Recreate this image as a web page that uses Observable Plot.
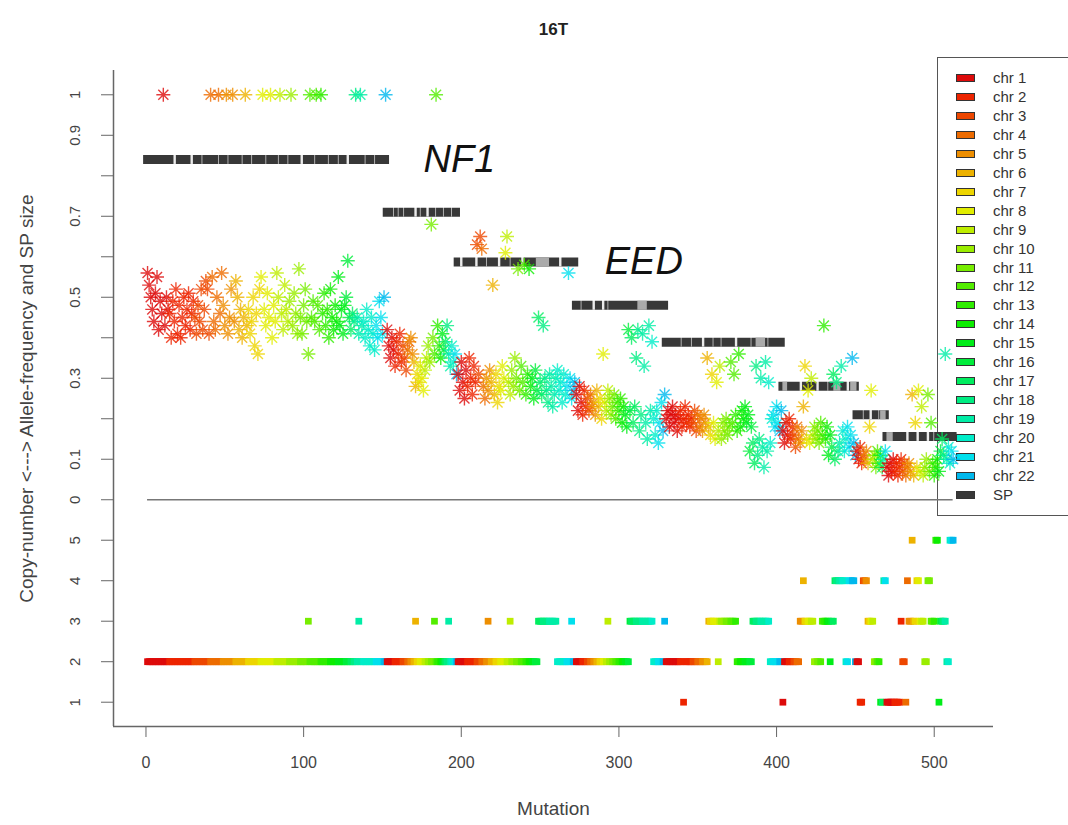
<!DOCTYPE html>
<html>
<head>
<meta charset="utf-8">
<script src="https://cdn.jsdelivr.net/npm/d3@7"></script>
<script src="https://cdn.jsdelivr.net/npm/@observablehq/plot@0.6"></script>
<style>
  body { margin: 0; background: #fff; }
  #wrap { position: relative; width: 1068px; height: 825px; overflow: hidden; font-family: "Liberation Sans", Arial, sans-serif; }
  #legend { position: absolute; left: 937px; top: 57px; width: 150px; height: 459px; border: 1.5px solid #555; background: #fff; box-sizing: border-box; }
  #legend .sw { position: absolute; left: 18px; width: 19px; height: 8px; border: 1px solid #333; box-sizing: border-box; }
  #legend .lb { position: absolute; left: 55px; font-size: 15px; color: #333; line-height: 16px; white-space: nowrap; }
  #chart { position: absolute; left: 0; top: 0; }
</style>
</head>
<body>
<div id="wrap"><div id="legend"></div><div id="chart"></div></div>
<script>
// ---------------- data ----------------
const chrNames = ["chr 1","chr 2","chr 3","chr 4","chr 5","chr 6","chr 7","chr 8","chr 9","chr 10","chr 11",
  "chr 12","chr 13","chr 14","chr 15","chr 16","chr 17","chr 18","chr 19","chr 20","chr 21","chr 22"];
const chrColors = ["#dd0a0a","#ed2400","#ed4700","#ed6b00","#ed8e00","#edb200","#edd500","#e1ed00","#beed00",
  "#9aed00","#77ed00","#53ed00","#2fed00","#0ced00","#00ed18","#00ed3b","#00ed5f","#00ed82","#00eda6",
  "#00edc9","#00e0ed","#00b8ed"];
const spLabel = "SP";
const spColor = "#383838";

// subpopulation (SP) sizes, in allele-frequency units
const spSizes = [0.84, 0.71, 0.587, 0.48, 0.389, 0.28, 0.21, 0.156];

// number of mutations per chromosome (chr 1..22) inside each SP, in plotting order
const spChrCounts = [
  [14,16,10,8,8,8,8,10,8,7,6,7,6,5,5,3,2,2,4,8,5,2],
  [5,5,3,2,2,2,2,3,2,2,2,2,2,1,1,1,1,1,2,2,1,1],
  [6,6,3,3,3,3,3,4,3,3,3,3,2,2,2,2,3,4,5,6,4,2],
  [4,3,2,2,2,2,2,2,2,2,2,2,2,2,2,2,3,4,6,4,3,2],
  [9,8,3,3,3,2,2,3,2,3,3,3,3,3,3,2,2,3,5,3,4,2],
  [4,3,2,2,2,1,2,2,2,2,2,2,2,1,2,1,2,2,2,3,3,3],
  [2,2,1,1,1,1,1,1,1,1,1,1,1,0,1,0,1,0,1,0,1,0],
  [5,5,2,2,2,2,2,2,2,2,2,2,2,1,1,1,1,1,2,2,1,1]
];

// allele frequency of each mutation, SP by SP, in mutation order
const sp1AF = [
  0.56,0.53,0.50,0.47,0.44,0.51,0.55,0.42,0.49,0.46,1.00,0.43,0.50,0.47,
  0.46,0.40,0.49,0.44,0.52,0.41,0.48,0.40,0.45,0.50,0.43,0.47,0.51,0.42,0.46,0.49,
  0.45,0.41,0.48,0.44,0.52,0.42,0.47,0.54,0.52,0.41,
  1.00,0.55,0.44,0.42,0.50,1.00,0.46,0.56,
  0.48,0.43,1.00,0.41,0.45,0.52,1.00,0.44,
  0.54,0.50,0.42,0.47,0.40,0.45,1.00,0.43,
  0.47,0.41,0.44,0.50,0.38,0.46,0.36,0.52,
  0.55,1.00,0.47,0.43,0.51,0.45,1.00,0.40,0.48,0.44,
  0.56,0.50,1.00,0.46,0.42,0.53,0.47,0.44,
  0.49,1.00,0.43,0.51,0.46,0.41,0.57,
  0.45,0.41,0.48,0.52,0.44,0.36,
  1.00,0.45,0.49,0.44,1.00,0.48,0.42,
  1.00,0.46,0.51,0.43,0.47,0.40,
  0.52,0.45,0.42,0.48,0.44,
  0.55,0.43,0.47,0.41,0.48,
  0.50,0.59,0.45,
  0.42,0.46,
  0.44,1.00,
  0.45,0.41,1.00,0.43,
  0.44,0.40,0.47,0.42,0.38,0.45,0.41,0.37,
  0.43,0.40,0.49,0.45,0.41,
  0.50,1.00
];
const sp2AF = [
  0.42,0.38,0.35,0.40,0.37, 0.33,0.39,0.36,0.41,0.34, 0.38,0.35,0.32, 0.37,0.39, 0.40,0.36,
  0.34,0.28, 0.31,0.29, 0.33,0.30,0.27, 0.32,0.35, 0.38,0.34, 0.68,0.40, 0.36,1.00, 0.43,0.38,
  0.35, 0.41, 0.37, 0.39, 0.43, 0.36,0.33, 0.38,0.34, 0.36, 0.31
];
const sp3AF = [
  0.31,0.27,0.34,0.29,0.25,0.32, 0.28,0.35,0.30,0.26,0.33,0.29, 0.63,0.31,0.65, 0.62,0.28,0.25,
  0.30,0.27,0.32, 0.29,0.53,0.26, 0.31,0.24,0.28, 0.27,0.33,0.30,0.61, 0.65,0.29,0.26,
  0.32,0.28,0.35, 0.30,0.57,0.27, 0.33,0.29,0.58, 0.26,0.31, 0.57,0.28, 0.30,0.25, 0.32,0.27,
  0.45,0.29,0.26, 0.43,0.30,0.27,0.24, 0.31,0.28,0.23,0.26,0.30, 0.32,0.27,0.29,0.24,0.31,0.26,
  0.28,0.56,0.30,0.25, 0.27,0.29
];
const sp4AF = [
  0.26,0.22,0.28,0.24, 0.21,0.27,0.23, 0.25,0.22, 0.26,0.23, 0.24,0.21, 0.27,0.23, 0.25,0.20,
  0.36,0.24, 0.22,0.27, 0.25,0.21, 0.23,0.26, 0.20,0.24, 0.22,0.25, 0.19,0.23, 0.21,0.18,
  0.42,0.22, 0.40,0.19,0.23, 0.35,0.42,0.17,0.21, 0.41,0.33,0.19,0.15,0.43,0.22,
  0.39,0.20,0.16,0.22, 0.14,0.19,0.24, 0.17,0.26
];
const sp5AF = [
  0.20,0.22,0.18,0.21,0.23,0.19,0.21,0.17,0.20, 0.22,0.18,0.20,0.23,0.19,0.21,0.18,0.20,
  0.19,0.22,0.17, 0.21,0.18,0.20, 0.17,0.21,0.19, 0.35,0.18, 0.16,0.31, 0.19,0.15,0.29,
  0.17,0.33, 0.15,0.19,0.17, 0.20,0.16,0.18, 0.34,0.19,0.31, 0.21,0.17,0.36, 0.18,0.22,0.20,
  0.23,0.19,0.21, 0.12,0.18, 0.14,0.09, 0.33,0.11,0.15, 0.30,0.13,0.08,0.34,0.12,
  0.29,0.14,0.20, 0.21,0.18,0.23,0.19, 0.17,0.22
];
const sp6AF = [
  0.17,0.14,0.19,0.16, 0.20,0.15,0.18, 0.16,0.13, 0.18,0.15, 0.14,0.17, 0.23, 0.33,0.15,
  0.27,0.14, 0.30,0.16, 0.18,0.15, 0.17,0.14, 0.19,0.16, 0.43,0.15, 0.18, 0.11,0.16, 0.13,
  0.31,0.10, 0.29,0.12, 0.14,0.33, 0.17,0.12,0.15, 0.18,0.13,0.16, 0.35,0.14,0.11
];
const sp7AF = [0.12,0.10, 0.13,0.09, 0.11, 0.10, 0.12, 0.09, 0.18, 0.27, 0.10, 0.11, 0.08, 0.12, 0.09, 0.11, 0.08, 0.10, 0.12];
const sp8AF = [
  0.08,0.06,0.09,0.07,0.10, 0.07,0.09,0.06,0.08,0.10, 0.07,0.09, 0.06,0.08, 0.09,0.07,
  0.26,0.06, 0.19,0.08, 0.27,0.07, 0.23,0.06, 0.08,0.10, 0.26,0.07, 0.19,0.09, 0.06,0.08,
  0.10, 0.07, 0.12, 0.15, 0.11, 0.36,0.10, 0.13,0.09, 0.12, 0.10
];

// copy number: 2 unless listed here as [first mutation, last mutation, copy number]
const cnRuns = [
  [103,103,3],[135,135,3],[171,171,3],[183,183,3],[192,192,3],[217,217,3],[231,231,3],[249,260,3],
  [270,270,3],[293,293,3],[307,321,3],[329,329,3],[341,341,1],[357,362,3],[364,374,3],[385,395,3],
  [404,404,1],[415,416,3],[417,417,4],[418,423,3],[429,433,3],[435,436,3],[437,443,4],[446,449,4],
  [453,454,1],[455,457,4],[458,461,3],[466,467,1],[468,469,4],[470,478,1],[479,479,3],[482,482,1],
  [483,483,4],[484,485,3],[486,486,5],[487,488,3],[489,490,4],[491,493,3],[496,497,4],[498,500,3],
  [501,502,5],[503,503,1],[504,507,3],[510,512,5]
];

// lighter shading inside SP bars
const spGapsMajor = [18.2, 29, 98.8, 128, 171, 178.6, 200, 209.6, 224, 238.8, 262.8, 284, 290, 353.4, 374.3, 415.4, 426, 445.2, 459.7, 483, 489.5, 496];
const spGapsMinor = [35.5, 46, 52, 61, 67, 76, 84, 90, 107, 115.7, 122, 139, 145, 157, 160, 163.4, 174, 183.7, 188.7, 193.8, 216, 231, 276, 293, 339.5, 346, 359.7, 364.8, 383.8, 394.5, 432.5, 455, 464.8, 499.7];
const spLight = [[3,247.6,256],[4,312,318],[5,387,393],[6,404,407],[6,436.3,440.8],[6,447,451],[7,466,469.5],[8,470,474]];

// gene annotations
const geneNames = ["NF1", "EED"];
const geneSP = [1, 3];
const geneX = [176, 291];

// axes
const xTicks = [0, 100, 200, 300, 400, 500];
const afTicks = [0, 0.1, 0.2, 0.3, 0.4, 0.5, 0.6, 0.7, 0.8, 0.9, 1];
const afTickLabels = ["0", "0.1", "", "0.3", "", "0.5", "", "0.7", "", "0.9", "1"];
const cnTicks = [1, 2, 3, 4, 5];
const titleText = "16T";
const xLabel = "Mutation";
const yLabel = "Copy-number <---> Allele-frequency and SP size";

// ---------------- build ----------------
const spAF = [sp1AF, sp2AF, sp3AF, sp4AF, sp5AF, sp6AF, sp7AF, sp8AF];
const muts = [];
spAF.forEach((arr, s) => {
  const chrSeq = spChrCounts[s].flatMap((c, i) => Array(c).fill(i + 1));
  arr.forEach((af, j) => {
    muts.push({x: muts.length + 1, af, chr: chrSeq[j] || 22, sp: s + 1, cn: 2});
  });
});
cnRuns.forEach(([a, b, cn]) => { for (let i = a; i <= b; i++) if (muts[i - 1]) muts[i - 1].cn = cn; });
muts.forEach(d => d.color = chrColors[d.chr - 1]);

const spBars = spSizes.map((size, s) => {
  const members = muts.filter(d => d.sp === s + 1);
  return {sp: s + 1, size, start: d3.min(members, d => d.x), end: d3.max(members, d => d.x)};
});
const spOf = x => spBars.find(b => x >= b.start && x <= b.end);
const gapMaj = spGapsMajor.map(x => ({x, size: spOf(x).size}));
const gapMin = spGapsMinor.map(x => ({x, size: spOf(x).size}));
const lightSegs = spLight.map(([sp, a, b]) => ({a, b, size: spSizes[sp - 1]}));
const genes = geneNames.map((g, i) => ({g, x: geneX[i], af: spSizes[geneSP[i] - 1]}));
const baseLine = [{a: muts[0].x, b: muts[muts.length - 1].x}];

const yTickData = afTicks.map((v, i) => ({u: v * 10, label: afTickLabels[i]}))
  .concat(cnTicks.map(c => ({u: c - 6, label: String(c)})));

const star8 = {
  draw(ctx, size) {
    const r = Math.sqrt(size / Math.PI), d = r * 0.72;
    ctx.moveTo(-r, 0); ctx.lineTo(r, 0);
    ctx.moveTo(0, -r); ctx.lineTo(0, r);
    ctx.moveTo(-d, -d); ctx.lineTo(d, d);
    ctx.moveTo(-d, d); ctx.lineTo(d, -d);
  }
};

const xDomain = [-20.6, 537.6];
const yDomain = [-5.6, 10.6];
const axisGray = "#666";
const textGray = "#444";

const plot = Plot.plot({
  width: 1068, height: 825,
  marginLeft: 113, marginRight: 75, marginTop: 70, marginBottom: 99,
  x: {domain: xDomain},
  y: {domain: yDomain},
  color: {type: "identity"},
  style: {fontFamily: "'Liberation Sans', Arial, sans-serif", fontSize: "16px", color: textGray, background: "transparent", overflow: "visible"},
  marks: [
    Plot.ruleY(baseLine, {y: () => 0, x1: "a", x2: "b", stroke: "#777", strokeWidth: 1.5}),
    Plot.ruleY(spBars, {y: d => d.size * 10, x1: d => d.start - 2.5, x2: d => d.end + 2.5, stroke: spColor, strokeWidth: 9}),
    Plot.ruleY(lightSegs, {y: d => d.size * 10, x1: "a", x2: "b", stroke: "#aaa", strokeWidth: 9}),
    Plot.ruleX(gapMaj, {x: "x", y1: d => d.size * 10 - 0.12, y2: d => d.size * 10 + 0.12, stroke: "#fff", strokeWidth: 2.4, strokeOpacity: 0.9}),
    Plot.ruleX(gapMin, {x: "x", y1: d => d.size * 10 - 0.12, y2: d => d.size * 10 + 0.12, stroke: "#fff", strokeWidth: 1, strokeOpacity: 0.6}),
    Plot.dot(muts.filter(d => d.cn > 0), {x: "x", y: d => d.cn - 6, fill: "color", symbol: "square", r: 3.8}),
    Plot.dot(muts, {x: "x", y: d => d.af * 10, stroke: "color", fill: "none", symbol: star8, r: 7, strokeWidth: 1.4, strokeOpacity: 0.8}),
    Plot.text(genes, {x: "x", y: d => d.af * 10, text: "g", textAnchor: "start", fontSize: 38, fontStyle: "italic", fill: "#111"}),
    Plot.ruleX([xDomain[0]], {stroke: axisGray, strokeWidth: 1.5}),
    Plot.ruleY([yDomain[0]], {stroke: axisGray, strokeWidth: 1.5}),
    Plot.axisX(xTicks, {tickSize: 11, tickPadding: 19, label: null, stroke: axisGray, fill: textGray}),
    Plot.axisY(yTickData.map(d => d.u), {tickSize: 12, tickFormat: () => "", label: null, stroke: axisGray}),
    Plot.text(yTickData, {y: "u", text: "label", frameAnchor: "left", dx: -38, rotate: -90, textAnchor: "middle", lineAnchor: "middle", fill: textGray, fontSize: 15}),
    Plot.text([titleText], {frameAnchor: "top", dy: -48, fontWeight: "bold", fontSize: 17, fill: "#222"}),
    Plot.text([xLabel], {frameAnchor: "bottom", dy: 88, fontSize: 19, fill: textGray}),
    Plot.text([yLabel], {frameAnchor: "left", dx: -87, rotate: -90, textAnchor: "middle", lineAnchor: "middle", fontSize: 19, fill: textGray})
  ]
});
document.getElementById("chart").append(plot);

// legend (drawn underneath the plot, like the original)
const legend = document.getElementById("legend");
const items = chrNames.map((n, i) => ({n, c: chrColors[i]})).concat([{n: spLabel, c: spColor}]);
items.forEach((it, i) => {
  const cy = 20 + i * 18.95;
  const sw = document.createElement("div");
  sw.className = "sw"; sw.style.top = (cy - 4) + "px"; sw.style.background = it.c;
  const lb = document.createElement("div");
  lb.className = "lb"; lb.style.top = (cy - 8) + "px"; lb.textContent = it.n;
  legend.append(sw, lb);
});
</script>
</body>
</html>
